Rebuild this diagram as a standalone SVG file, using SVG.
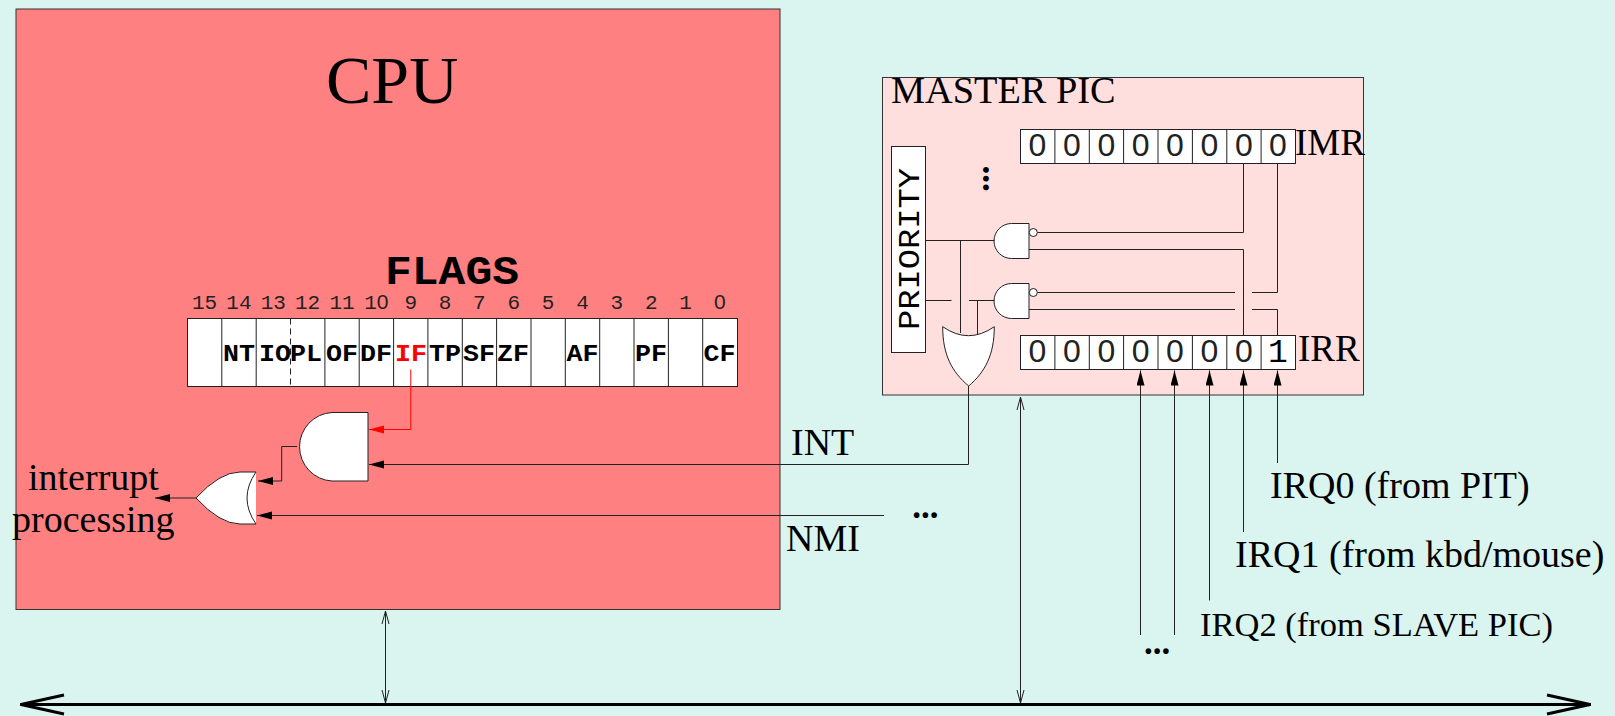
<svg xmlns="http://www.w3.org/2000/svg" width="1615" height="716" viewBox="0 0 1615 716">
<style>
.ln{fill:none;stroke:#222;stroke-width:1}
.wh{fill:#fff;stroke:#222;stroke-width:1}
.s{font-family:"Liberation Serif","Times New Roman",serif;fill:#000}
.m{font-family:"Liberation Mono","Courier New",monospace;fill:#000}
.n{font-size:21px;text-anchor:middle;fill:#222}
.z{font-family:"Liberation Sans",Arial,sans-serif}
.f{font-size:23px;font-weight:bold;text-anchor:middle}
.b{font-family:"Liberation Sans",Arial,sans-serif;font-size:32px;text-anchor:middle;fill:#222}
.l{font-size:38px}
.d{font-size:35px;font-weight:bold}
</style>
<defs>
<marker id="ah" markerUnits="userSpaceOnUse" markerWidth="16" markerHeight="10" refX="15" refY="4" orient="auto"><path d="M0,0L15,4L0,8Z" fill="#000"/></marker>
<marker id="ar" markerUnits="userSpaceOnUse" markerWidth="16" markerHeight="10" refX="15" refY="4" orient="auto"><path d="M0,0L15,4L0,8Z" fill="#f00"/></marker>
<marker id="os" markerUnits="userSpaceOnUse" markerWidth="16" markerHeight="10" refX="14" refY="4.5" orient="auto-start-reverse"><path d="M1,1L14,4.5L1,8" fill="none" stroke="#222" stroke-width="1"/></marker>
</defs>
<rect width="1615" height="716" fill="#daf5f0"/>
<g id="cpu">
<rect x="16" y="9" width="764" height="600.5" fill="#ff8080" stroke="#333" stroke-width="1"/>
<text class="s" x="326" y="103" font-size="68">CPU</text>
</g>
<g id="flags">
<text class="m" x="452" y="284" font-size="40" font-weight="bold" text-anchor="middle" textLength="134" lengthAdjust="spacingAndGlyphs">FLAGS</text>
<g>
<text class="m n" x="204.6" y="309">15</text><text class="m n" x="238.9" y="309">14</text><text class="m n" x="273.3" y="309">13</text><text class="m n" x="307.6" y="309">12</text><text class="m n" x="342" y="309">11</text><text class="m n" x="376.4" y="309">1<tspan class="z">0</tspan></text><text class="m n" x="410.7" y="309">9</text><text class="m n" x="445" y="309">8</text><text class="m n" x="479.4" y="309">7</text><text class="m n" x="513.8" y="309">6</text><text class="m n" x="548.1" y="309">5</text><text class="m n" x="582.5" y="309">4</text><text class="m n" x="616.8" y="309">3</text><text class="m n" x="651.2" y="309">2</text><text class="m n" x="685.5" y="309">1</text><text class="z n" x="719.9" y="309">0</text>
</g>
<rect class="wh" x="187.5" y="318.5" width="550" height="68"/>
<path class="ln" d="M221.8,318.5V386.5M256.2,318.5V386.5M324.9,318.5V386.5M359.2,318.5V386.5M393.6,318.5V386.5M427.9,318.5V386.5M462.3,318.5V386.5M496.6,318.5V386.5M531,318.5V386.5M565.3,318.5V386.5M599.7,318.5V386.5M634,318.5V386.5M668.4,318.5V386.5M702.7,318.5V386.5"/>
<path class="ln" d="M290.5,318.5V386.5" stroke-dasharray="6 4"/>
<g>
<text class="m f" x="239" y="361" textLength="32" lengthAdjust="spacingAndGlyphs">NT</text><text class="m f" x="275" y="361" textLength="32" lengthAdjust="spacingAndGlyphs">IO</text><text class="m f" x="306" y="361" textLength="32" lengthAdjust="spacingAndGlyphs">PL</text><text class="m f" x="342" y="361" textLength="32" lengthAdjust="spacingAndGlyphs">OF</text><text class="m f" x="376" y="361" textLength="32" lengthAdjust="spacingAndGlyphs">DF</text><text class="m f" x="411" y="361" textLength="32" lengthAdjust="spacingAndGlyphs" style="fill:#f00">IF</text><text class="m f" x="445" y="361" textLength="32" lengthAdjust="spacingAndGlyphs">TP</text><text class="m f" x="479" y="361" textLength="32" lengthAdjust="spacingAndGlyphs">SF</text><text class="m f" x="513" y="361" textLength="32" lengthAdjust="spacingAndGlyphs">ZF</text><text class="m f" x="582.5" y="361" textLength="32" lengthAdjust="spacingAndGlyphs">AF</text><text class="m f" x="651" y="361" textLength="32" lengthAdjust="spacingAndGlyphs">PF</text><text class="m f" x="719.5" y="361" textLength="32" lengthAdjust="spacingAndGlyphs">CF</text>
</g>
</g>
<g id="and-main"><path class="wh" d="M368,412.5H332A34.3,34.3 0 0 0 332,481H368Z"/></g>
<g id="or-main">
<path fill="#fff" d="M196,498Q220,472 240,472H256V524H240Q220,524 196,498Z"/>
<path class="ln" d="M196,498Q220,472 240,472H256Q238,498 256,524H240Q220,524 196,498Z"/>
</g>
<g id="interrupt-label">
<text class="s l" x="28" y="489.5">interrupt</text>
<text class="s l" x="12" y="532">processing</text>
</g>
<g id="pic">
<rect x="882.5" y="77.5" width="481" height="317.5" fill="#ffdede" stroke="#333" stroke-width="1"/>
<text class="s" x="891" y="103" font-size="38.3">MASTER PIC</text>
<text class="s" x="1295" y="155" font-size="37">IMR</text>
<text class="s" x="1298" y="361" font-size="37">IRR</text>
<text class="s d" transform="translate(982.7,165.6) rotate(90)">...</text>
</g>
<g id="priority">
<rect class="wh" x="891.5" y="146.5" width="34" height="206"/>
<text class="m" transform="translate(919,249) rotate(-90)" font-size="30" text-anchor="middle" textLength="162" lengthAdjust="spacingAndGlyphs">PRIORITY</text>
</g>
<g id="imr">
<rect class="wh" x="1020.5" y="129.5" width="275" height="34"/>
<path class="ln" d="M1054.9,129.5V163.5M1089.3,129.5V163.5M1123.6,129.5V163.5M1158,129.5V163.5M1192.4,129.5V163.5M1226.8,129.5V163.5M1261.1,129.5V163.5"/>
<text class="b" x="1037.5" y="156">0</text><text class="b" x="1071.9" y="156">0</text><text class="b" x="1106.3" y="156">0</text><text class="b" x="1140.7" y="156">0</text><text class="b" x="1175" y="156">0</text><text class="b" x="1209.4" y="156">0</text><text class="b" x="1243.8" y="156">0</text><text class="b" x="1278" y="156">0</text>
</g>
<g id="irr">
<rect class="wh" x="1020.5" y="335.5" width="275" height="34"/>
<path class="ln" d="M1054.9,335.5V369.5M1089.3,335.5V369.5M1123.6,335.5V369.5M1158,335.5V369.5M1192.4,335.5V369.5M1226.8,335.5V369.5M1261.1,335.5V369.5"/>
<text class="b" x="1037.5" y="362">0</text><text class="b" x="1071.9" y="362">0</text><text class="b" x="1106.3" y="362">0</text><text class="b" x="1140.7" y="362">0</text><text class="b" x="1175" y="362">0</text><text class="b" x="1209.4" y="362">0</text><text class="b" x="1243.8" y="362">0</text><text class="m" x="1278" y="362" font-size="33" text-anchor="middle" fill="#222">1</text>
</g>
<g id="nand-1">
<path class="wh" d="M1029,223.5H1011.5A17.5,17.5 0 0 0 1011.5,258.5H1029Z"/>
<circle class="wh" cx="1033.3" cy="232.5" r="4"/>
</g>
<g id="nand-2">
<path class="wh" d="M1029,283.5H1011.5A17.5,17.5 0 0 0 1011.5,318.5H1029Z"/>
<circle class="wh" cx="1033.3" cy="292.5" r="4"/>
</g>
<g id="or-pic"><path class="wh" d="M942.7,326.7Q968.5,344.7 994.3,326.7C994.3,355 985,372 968.7,386C952,372 942.7,355 942.7,326.7Z"/></g>
<g id="connectors">
<path d="M410.8,369.5V429.5H369" fill="none" stroke="#f00" stroke-width="1" marker-end="url(#ar)"/>
<path class="ln" d="M297,446.5H281.7V481H258" marker-end="url(#ah)"/>
<path class="ln" d="M196,498H155" marker-end="url(#ah)"/>
<path class="ln" d="M968.5,386V464.5H369" marker-end="url(#ah)"/>
<path class="ln" d="M884,515.5H257" marker-end="url(#ah)"/>
<path class="ln" d="M925.5,240.5H994.5M960.5,240.5V333M925.5,300.5H951.5M969,300.5H994.5M977.5,300.5V334"/>
<path class="ln" d="M1037.5,232.5H1243.5V163.5M1029,249.5H1243.5V335.5"/>
<path class="ln" d="M1277.5,163.5V292.5H1252M1235,292.5H1037.5M1029,309.5H1235M1252,309.5H1277.5V335.5"/>
<path class="ln" d="M1140.5,635V370.5" marker-end="url(#ah)"/>
<path class="ln" d="M1174.5,635V370.5" marker-end="url(#ah)"/>
<path class="ln" d="M1209.5,600.5V370.5" marker-end="url(#ah)"/>
<path class="ln" d="M1243.5,532V370.5" marker-end="url(#ah)"/>
<path class="ln" d="M1277.5,463V370.5" marker-end="url(#ah)"/>
<path class="ln" d="M385.5,611V703" marker-start="url(#os)" marker-end="url(#os)"/>
<path class="ln" d="M1020.5,397V703" marker-start="url(#os)" marker-end="url(#os)"/>
<path d="M20,704.5H1591" fill="none" stroke="#000" stroke-width="3"/>
<path d="M64,695L21,704.5L64,714M1547,695L1590,704.5L1547,714" fill="none" stroke="#000" stroke-width="3"/>
</g>
<g id="labels">
<text class="s l" x="791" y="455">INT</text>
<text class="s l" x="786" y="551">NMI</text>
<text class="s d" x="912.3" y="517.5">...</text>
<text class="s l" x="1270" y="498">IRQ0 (from PIT)</text>
<text class="s l" x="1235" y="567">IRQ1 (from kbd/mouse)</text>
<text class="s" x="1200" y="636" font-size="34.5">IRQ2 (from SLAVE PIC)</text>
<text class="s d" x="1144" y="654">...</text>
</g>
</svg>
